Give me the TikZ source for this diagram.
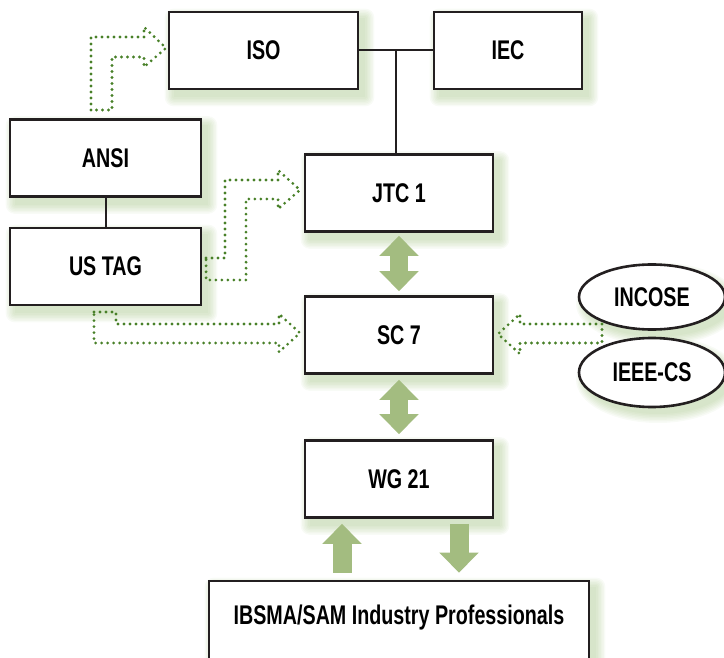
\documentclass[tikz,border=0pt]{standalone}
\usepackage{fontspec}
\newfontfamily\boxfont{Liberation Sans}[FakeStretch=0.73]
\usetikzlibrary{arrows.meta,calc,backgrounds,shapes.geometric}
\definecolor{boxline}{RGB}{35,31,32}
\definecolor{dotgreen}{RGB}{72,128,40}
\definecolor{arrowgreen}{RGB}{163,188,128}
\definecolor{shadowgreen}{RGB}{140,180,100}
\tikzset{
  orgbox/.style={draw=boxline, line width=2.6pt, fill=white, rectangle,
    minimum width=188pt, minimum height=77pt, inner sep=0pt,
    font=\boxfont\bfseries\fontsize{27}{31}\selectfont},
  orgoval/.style={orgbox, ellipse, minimum width=146pt},
  dotarrow/.style={draw=dotgreen, line width=3.1pt, line cap=round, line join=round,
    dash pattern=on 0pt off 6pt},
  fatdouble/.style={draw=arrowgreen, line width=18pt,
    {Triangle[width=38pt,length=20pt]}-{Triangle[width=38pt,length=20pt]}},
  fatsingle/.style={draw=arrowgreen, line width=19pt,
    -{Triangle[width=38pt,length=20pt]}},
  joinline/.style={draw=boxline, line width=2pt},
  softshadow/.style={fill=shadowgreen, fill opacity=0.06}
}
\begin{document}
\begin{tikzpicture}[x=1pt,y=-1pt]
\useasboundingbox (0,0) rectangle (724,658);
\begin{scope}
\clip (0,0) rectangle (724,658);
% dotted block arrows
\draw[dotarrow] (91,110) -- (91,37) -- (144,37) -- (144,27) -- (166,48) -- (144,67) -- (144,57) -- (112,57) -- (112,110) -- cycle;
\draw[dotarrow] (206,258) -- (225,258) -- (225,180) -- (278,180) -- (278,170) -- (300,190) -- (278,209) -- (278,199) -- (246,199) -- (246,280) -- (206,280) -- cycle;
\draw[dotarrow] (94,312) -- (116,312) -- (116,324) -- (279,324) -- (279,314) -- (300,333) -- (279,352) -- (279,343) -- (94,343) -- cycle;
\draw[dotarrow] (602,324) -- (520,324) -- (520,314) -- (498,334) -- (520,354) -- (520,343) -- (602,343) -- cycle;

% boxes
\node[orgbox, minimum width=189pt] (iso) at (263.5,50.5) {ISO};
\node[orgbox, minimum width=148pt] (iec) at (508,50.5) {IEC};
\node[orgbox] (jtc) at (399,193) {JTC 1};
\node[orgbox] (sc) at (399,335) {SC 7};
\node[orgbox] (wg) at (399,479) {WG 21};
\node[orgbox, minimum width=191pt] (ansi) at (105.5,158) {ANSI};
\node[orgbox, minimum width=191pt] (ustag) at (105.5,266.5) {US TAG};
\node[orgbox, minimum width=380pt, minimum height=80pt] (ibsma) at (399,621) {};
\node[font=\boxfont\bfseries\fontsize{27}{31}\selectfont] (ibsmatext) at (399,618) {IBSMA/SAM Industry Professionals};
\node[orgoval, minimum height=65pt] (incose) at (652,297) {INCOSE};
\node[orgoval, minimum height=69pt] (ieee) at (652,372.5) {IEEE-CS};

% soft shadows
\begin{pgfonlayer}{background}
\foreach \n in {iso,iec,jtc,sc,wg,ansi,ustag,ibsma}{
  \foreach \k in {0,1.5,...,9}{
    \fill[softshadow, rounded corners=\k pt] ($(\n.north west)+(6-\k,7-\k)$) rectangle ($(\n.south east)+(6+\k,7+\k)$);
  }
}
\foreach \n/\rx/\ry in {incose/73/32.5,ieee/73/34.5}{
  \foreach \k in {0,1.5,...,9}{
    \fill[softshadow] ($(\n.center)+(6,7)$) ellipse ({\rx+\k} and {\ry+\k});
  }
}
\end{pgfonlayer}

% solid connectors
\coordinate (tee) at ($(iso.east)!0.5!(iec.west)$);
\draw[joinline] (iso.east) -- (iec.west);
\draw[joinline] (tee) -- (tee |- jtc.north);
\draw[joinline] (ansi.south) -- (ustag.north);

% thick green arrows
\draw[fatdouble, shorten <=3pt, shorten >=4pt] (jtc.south) -- (sc.north);
\draw[fatdouble, shorten <=5pt, shorten >=5pt] (sc.south) -- (wg.north);
\draw[fatsingle, shorten <=7pt, shorten >=5pt] ([xshift=-57pt]ibsma.north) -- ([xshift=-57pt]wg.south);
\draw[fatsingle, shorten <=5pt, shorten >=7pt] ([xshift=60pt]wg.south) -- ([xshift=60pt]ibsma.north);
\end{scope}
\end{tikzpicture}
\end{document}
